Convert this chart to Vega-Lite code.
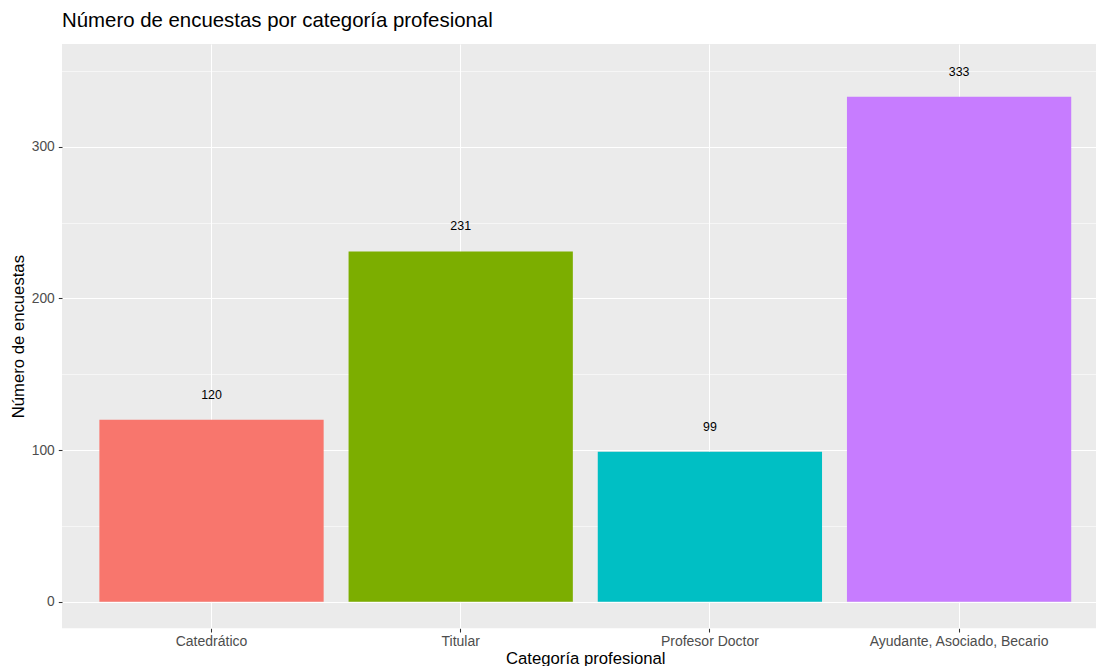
{
  "$schema": "https://vega.github.io/schema/vega-lite/v6.json",
  "width": 1034,
  "height": 584.3,
  "autosize": "none",
  "padding": {"left": 62, "top": 44, "right": 0, "bottom": 37.7},
  "background": "white",
  "config": {
    "font": "Liberation Sans",
    "view": {"fill": "#EBEBEB", "stroke": null}
  },
  "title": {
    "text": "Número de encuestas por categoría profesional",
    "anchor": "start",
    "frame": "group",
    "fontSize": 20.4,
    "fontWeight": "normal",
    "color": "black",
    "font": "Liberation Sans",
    "baseline": "alphabetic",
    "offset": 16,
    "dy": 19
  },
  "data": {
    "values": [
      {"categoria": "Catedrático", "n": 120},
      {"categoria": "Titular", "n": 231},
      {"categoria": "Profesor Doctor", "n": 99},
      {"categoria": "Ayudante, Asociado, Becario", "n": 333}
    ]
  },
  "encoding": {
    "x": {
      "field": "categoria",
      "type": "nominal",
      "sort": null,
      "scale": {"range": [0, 1046.6], "paddingInner": 0.1, "paddingOuter": 0.15},
      "axis": {
        "title": "Categoría profesional",
        "titleFontSize": 16.7,
        "titleFontWeight": "normal",
        "titleColor": "black",
        "titlePadding": 2,
        "labelAngle": 0,
        "labelFontSize": 14,
        "labelColor": "#4D4D4D",
        "labelPadding": 2,
        "tickColor": "#333333",
        "tickSize": 3.7,
        "tickWidth": 1.07,
        "domain": false,
        "grid": true,
        "gridColor": "white",
        "gridWidth": 1.07,
        "zindex": 0
      }
    }
  },
  "layer": [
    {
      "mark": {"type": "bar"},
      "encoding": {
        "y": {
          "field": "n",
          "type": "quantitative",
          "scale": {"domain": [-17.5, 367.8], "nice": false, "zero": false},
          "axis": {
            "orient": "left",
            "values": [0, 100, 200, 300],
            "title": "Número de encuestas",
            "titleFontSize": 16.7,
            "titleFontWeight": "normal",
            "titleColor": "black",
            "titlePadding": 4,
            "labelFontSize": 13.8,
            "labelColor": "#4D4D4D",
            "labelPadding": 4,
            "tickColor": "#333333",
            "tickSize": 3.7,
            "tickWidth": 1.07,
            "domain": false,
            "grid": true,
            "gridColor": "white",
            "gridWidth": 1.07,
            "zindex": 0
          }
        },
        "y2": {"datum": 0},
        "color": {
          "field": "categoria",
          "type": "nominal",
          "sort": null,
          "scale": {
            "domain": ["Catedrático", "Titular", "Profesor Doctor", "Ayudante, Asociado, Becario"],
            "range": ["#F8766D", "#7CAE00", "#00BFC4", "#C77CFF"]
          },
          "legend": null
        }
      }
    },
    {
      "mark": {"type": "text", "dy": -25, "fontSize": 12.4, "color": "black", "font": "Liberation Sans"},
      "encoding": {
        "y": {
          "field": "n",
          "type": "quantitative",
          "axis": {
            "orient": "right",
            "values": [50, 150, 250, 350],
            "title": null,
            "labels": false,
            "ticks": false,
            "domain": false,
            "grid": true,
            "gridColor": "white",
            "gridWidth": 0.55,
            "zindex": 0
          }
        },
        "text": {"field": "n", "type": "quantitative"}
      }
    }
  ]
}
